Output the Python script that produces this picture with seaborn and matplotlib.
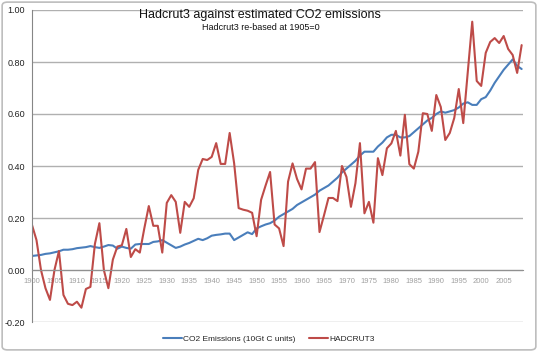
import numpy as np
import pandas as pd
import matplotlib
matplotlib.use("Agg")
import matplotlib.pyplot as plt
from matplotlib.patches import FancyBboxPatch
import seaborn as sns

years = list(range(1900, 2010))

# CO2 emissions in 10Gt C units
co2 = [0.054, 0.056, 0.058, 0.062, 0.064, 0.068, 0.072, 0.078, 0.078, 0.080,
       0.084, 0.086, 0.088, 0.092, 0.088, 0.085, 0.090, 0.096, 0.094, 0.082,
       0.090, 0.085, 0.082, 0.098, 0.100, 0.100, 0.100, 0.108, 0.110, 0.115,
       0.105, 0.095, 0.085, 0.090, 0.098, 0.104, 0.112, 0.120, 0.115, 0.122,
       0.132, 0.135, 0.137, 0.140, 0.140, 0.115, 0.125, 0.135, 0.145, 0.138,
       0.160, 0.168, 0.175, 0.180, 0.190, 0.205, 0.215, 0.225, 0.235, 0.250,
       0.260, 0.270, 0.280, 0.290, 0.305, 0.315, 0.325, 0.340, 0.355, 0.375,
       0.390, 0.405, 0.420, 0.440, 0.455, 0.455, 0.455, 0.475, 0.490, 0.510,
       0.520, 0.520, 0.510, 0.510, 0.515, 0.530, 0.545, 0.560, 0.575, 0.585,
       0.600, 0.610, 0.605, 0.610, 0.615, 0.625, 0.640, 0.645, 0.635, 0.635,
       0.657, 0.665, 0.690, 0.720, 0.745, 0.770, 0.790, 0.810, 0.785, 0.773]

# HADCRUT3 anomaly re-based at 1905
hadcrut = [0.173, 0.115, 0.000, -0.070, -0.115, 0.000, 0.073, -0.096, -0.130, -0.135,
           -0.122, -0.145, -0.073, -0.065, 0.100, 0.180, 0.000, -0.070, 0.040, 0.090,
           0.095, 0.158, 0.050, 0.080, 0.067, 0.160, 0.246, 0.170, 0.170, 0.067,
           0.258, 0.288, 0.262, 0.143, 0.262, 0.243, 0.276, 0.385, 0.427, 0.423,
           0.435, 0.488, 0.408, 0.408, 0.527, 0.410, 0.238, 0.232, 0.228, 0.220,
           0.130, 0.270, 0.325, 0.377, 0.175, 0.160, 0.092, 0.340, 0.410, 0.350,
           0.310, 0.390, 0.390, 0.415, 0.146, 0.210, 0.277, 0.277, 0.265, 0.400,
           0.358, 0.243, 0.334, 0.488, 0.218, 0.262, 0.182, 0.430, 0.365, 0.468,
           0.487, 0.535, 0.440, 0.597, 0.407, 0.390, 0.455, 0.603, 0.600, 0.535,
           0.673, 0.627, 0.500, 0.527, 0.585, 0.696, 0.565, 0.760, 0.955, 0.727,
           0.708, 0.835, 0.877, 0.892, 0.873, 0.900, 0.850, 0.827, 0.758, 0.865]

labels = ["CO2 Emissions (10Gt C units)", "HADCRUT3"]
colors = ["#4a7ebb", "#be4b48"]

df = pd.concat([
    pd.DataFrame({"year": years, "value": co2, "series": labels[0]}),
    pd.DataFrame({"year": years, "value": hadcrut, "series": labels[1]}),
])

sns.set_style("white")
plt.rcParams["font.family"] = ["Liberation Sans", "DejaVu Sans"]

fig = plt.figure(figsize=(5.38, 3.52), dpi=100)
ax = fig.add_axes([32 / 538, 1 - 322 / 352, (523 - 32) / 538, (322 - 10) / 352])

sns.lineplot(data=df, x="year", y="value", hue="series", palette=colors,
             linewidth=1.5, ax=ax)

ax.set_xlim(1900, 2009.3)
ax.set_ylim(-0.2, 1.0)
ax.set_yticks(np.arange(-0.2, 1.01, 0.2))
ax.set_yticklabels([f"{v:.2f}" for v in np.arange(-0.2, 1.01, 0.2)], fontsize=6.5, color="#222222")
ax.yaxis.grid(True, color="#b0b0b0", linewidth=1)
ax.set_axisbelow(True)

ax.set_xticks(range(1900, 2010, 5))
ax.set_xticks(range(1900, 2010), minor=True)
ax.tick_params(axis="x", which="both", direction="inout", length=4, color="#909090",
               labelsize=5.5, labelcolor="#a0a0a0", pad=4)
ax.tick_params(axis="y", direction="out", length=3, color="#868686", pad=2)
ax.spines["bottom"].set_position(("data", 0))
ax.spines["bottom"].set_color("#909090")
ax.spines["left"].set_color("#868686")
ax.spines["top"].set_visible(False)
ax.spines["right"].set_visible(False)
ax.set_xlabel("")
ax.set_ylabel("")

handles, _ = ax.get_legend_handles_labels()
ax.get_legend().remove()
fig.legend(handles, labels, loc="center", bbox_to_anchor=(0.5, 1 - 339 / 352), ncol=2,
           frameon=False, fontsize=6, handlelength=2.2, columnspacing=1.6, handletextpad=0.2)

fig.text(0.484, 1 - 15 / 352, "Hadcrut3 against estimated CO2 emissions", ha="center",
         va="center", fontsize=9, color="#111111")
fig.text(0.484, 1 - 28 / 352, "Hadcrut3 re-based at 1905=0", ha="center", va="center",
         fontsize=6.5, color="#111111")

fig.patches.append(FancyBboxPatch((0.004, 0.006), 0.992, 0.988, boxstyle="round,pad=0,rounding_size=0.01",
                                  transform=fig.transFigure, fill=False, edgecolor="#bdbdbd",
                                  linewidth=1.2))

fig.savefig("out.png", dpi=100)
